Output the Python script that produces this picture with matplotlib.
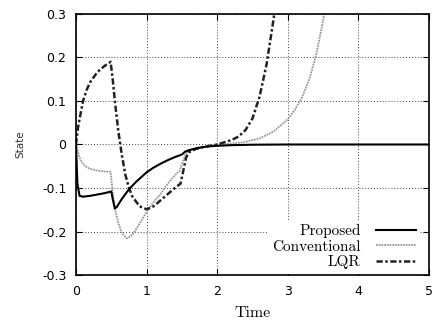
import matplotlib
matplotlib.use("Agg")
import matplotlib.pyplot as plt

# Proposed controller (solid black)
t_prop = [0, 0.02, 0.05, 0.1, 0.2, 0.3, 0.4, 0.5, 0.52, 0.55, 0.58, 0.65,
          0.75, 0.85, 1.0, 1.1, 1.2, 1.3, 1.4, 1.5, 1.55, 1.6, 1.7, 1.8,
          1.9, 2.0, 2.2, 2.5, 3.0, 4.0, 5.0]
y_prop = [0, -0.09, -0.118, -0.12, -0.118, -0.115, -0.112, -0.108, -0.125,
          -0.147, -0.143, -0.125, -0.103, -0.086, -0.064, -0.053, -0.044,
          -0.036, -0.029, -0.023, -0.016, -0.013, -0.009, -0.006, -0.004,
          -0.003, -0.0015, -0.0005, 0, 0, 0]

# Conventional controller (gray dotted)
t_conv = [0, 0.02, 0.05, 0.1, 0.15, 0.2, 0.3, 0.4, 0.49, 0.52, 0.55, 0.6,
          0.65, 0.72, 0.8, 0.9, 1.0, 1.1, 1.2, 1.3, 1.4, 1.47, 1.5, 1.55,
          1.6, 1.7, 1.8, 1.9, 2.0, 2.2, 2.4, 2.6, 2.8, 3.0, 3.1, 3.2, 3.3,
          3.4, 3.5, 3.55]
y_conv = [0, -0.012, -0.03, -0.045, -0.052, -0.056, -0.06, -0.062, -0.063,
          -0.11, -0.147, -0.18, -0.204, -0.216, -0.208, -0.182, -0.155,
          -0.132, -0.113, -0.09, -0.071, -0.06, -0.045, -0.024, -0.014,
          -0.008, -0.005, -0.003, -0.001, 0.002, 0.006, 0.014, 0.03, 0.058,
          0.08, 0.108, 0.148, 0.205, 0.285, 0.34]

# LQR (dash-dot)
t_lqr = [0, 0.01, 0.03, 0.05, 0.1, 0.15, 0.2, 0.3, 0.4, 0.49, 0.52, 0.55,
         0.6, 0.65, 0.7, 0.75, 0.8, 0.9, 1.0, 1.1, 1.2, 1.3, 1.4, 1.48,
         1.52, 1.56, 1.6, 1.7, 1.8, 1.9, 2.0, 2.1, 2.2, 2.3, 2.4, 2.5, 2.6,
         2.7, 2.8, 2.85]
y_lqr = [0, 0.015, 0.04, 0.058, 0.1, 0.125, 0.143, 0.166, 0.18, 0.19, 0.15,
         0.1, 0.03, -0.025, -0.07, -0.1, -0.12, -0.142, -0.149, -0.142,
         -0.128, -0.114, -0.1, -0.09, -0.06, -0.03, -0.018, -0.01, -0.006,
         -0.003, 0.0, 0.005, 0.01, 0.018, 0.033, 0.06, 0.11, 0.185, 0.29,
         0.36]

x_ticks = [0, 1, 2, 3, 4, 5]
y_ticks = [-0.3, -0.2, -0.1, 0, 0.1, 0.2, 0.3]
y_ticklabels = ["-0.3", "-0.2", "-0.1", "0", "0.1", "0.2", "0.3"]

fig = plt.figure(figsize=(4.36, 3.25), dpi=100)
ax = fig.add_axes([0.1743, 0.1538, 0.8097, 0.8032])

ax.plot(t_conv, y_conv, color="#999999", linewidth=1.3,
        linestyle=(0, (1, 0.5)), label="Conventional", zorder=3)
ax.plot(t_lqr, y_lqr, color="#222222", linewidth=1.8,
        linestyle=(0, (2.5, 1, 1, 1)), label="LQR", zorder=4)
ax.plot(t_prop, y_prop, color="black", linewidth=1.5,
        label="Proposed", zorder=5)

ax.set_xlim(0, 5)
ax.set_ylim(-0.3, 0.3)
ax.set_xticks(x_ticks)
ax.set_xticklabels([str(v) for v in x_ticks])
ax.set_yticks(y_ticks)
ax.set_yticklabels(y_ticklabels)
ax.tick_params(direction="in", length=4, width=0.8, top=True, right=True,
               labelsize=9, pad=7)
for lab in ax.get_xticklabels() + ax.get_yticklabels():
    lab.set_family("DejaVu Sans")

ax.grid(True, color="#444444", linestyle=(0, (1, 2)), linewidth=0.7)
for sp in ax.spines.values():
    sp.set_linewidth(1.2)
    sp.set_zorder(10)

ax.set_ylabel("State", family="DejaVu Sans", fontsize=7.5, color="#333333",
              labelpad=12)
ax.set_xlabel("Time", family="cmr10", fontsize=11.5, labelpad=6)

h, l = ax.get_legend_handles_labels()
order = [2, 0, 1]
leg = ax.legend([h[i] for i in order], [l[i] for i in order],
                loc="lower right", bbox_to_anchor=(0.975, 0.005),
                markerfirst=False, frameon=True,
                prop={"family": "cmr10", "size": 11},
                handlelength=2.6, handletextpad=1.0, labelspacing=0.1,
                borderpad=0.3, borderaxespad=0.0, fancybox=False)
leg.get_frame().set_facecolor("white")
leg.get_frame().set_edgecolor("none")
leg.get_frame().set_alpha(1)
for txt in leg.get_texts():
    txt.set_ha("right")
leg._legend_box.align = "right"

fig.savefig("out.png", dpi=100)
